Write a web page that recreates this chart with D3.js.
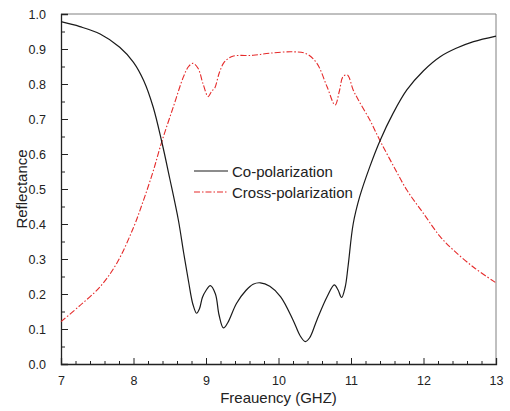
<!DOCTYPE html>
<html>
<head>
<meta charset="utf-8">
<script src="https://cdn.jsdelivr.net/npm/d3@7/dist/d3.min.js"></script>
<style>
  html, body { margin: 0; padding: 0; background: #fff; }
  svg { display: block; font-family: "Liberation Sans", Arial, sans-serif; }
</style>
</head>
<body>
<svg id="chart" width="510" height="411"></svg>
<script>
// Frequency (GHz) / reflectance samples for the co-polarized response
const coFreq = [7.0, 7.26, 7.54, 7.81, 8.0, 8.14, 8.27, 8.39, 8.5, 8.62, 8.69, 8.76, 8.82, 8.87, 8.91, 8.95, 9.0, 9.06, 9.13, 9.18, 9.24, 9.3, 9.42, 9.55, 9.65, 9.75, 9.88, 10.03, 10.2, 10.3, 10.37, 10.43, 10.53, 10.67, 10.77, 10.82, 10.87, 10.92, 10.96, 11.03, 11.12, 11.26, 11.4, 11.58, 11.77, 12.0, 12.23, 12.45, 12.69, 13.0];
const coRefl = [0.978, 0.964, 0.943, 0.905, 0.862, 0.81, 0.735, 0.635, 0.53, 0.41, 0.32, 0.235, 0.17, 0.145, 0.158, 0.19, 0.21, 0.224, 0.2, 0.14, 0.103, 0.118, 0.173, 0.21, 0.228, 0.232, 0.222, 0.192, 0.126, 0.08, 0.064, 0.075, 0.126, 0.192, 0.226, 0.212, 0.19, 0.22, 0.28, 0.4, 0.478, 0.564, 0.638, 0.716, 0.783, 0.838, 0.878, 0.902, 0.921, 0.937];

// Cross-polarized response
const crossFreq = [7.0, 7.25, 7.54, 7.77, 8.0, 8.14, 8.27, 8.39, 8.55, 8.69, 8.76, 8.82, 8.89, 8.96, 9.03, 9.08, 9.12, 9.18, 9.24, 9.3, 9.38, 9.65, 9.88, 10.2, 10.39, 10.53, 10.67, 10.78, 10.84, 10.89, 10.95, 11.03, 11.1, 11.26, 11.4, 11.58, 11.77, 12.0, 12.23, 12.41, 12.7, 13.0];
const crossRefl = [0.121, 0.165, 0.221, 0.288, 0.39, 0.469, 0.55, 0.635, 0.735, 0.821, 0.85, 0.859, 0.845, 0.8, 0.764, 0.78, 0.788, 0.83, 0.859, 0.872, 0.88, 0.882, 0.888, 0.892, 0.886, 0.859, 0.792, 0.74, 0.78, 0.821, 0.826, 0.783, 0.755, 0.697, 0.638, 0.568, 0.497, 0.43, 0.364, 0.326, 0.275, 0.232];

// Axis ticks
const xTicks = [7, 8, 9, 10, 11, 12, 13];
const yTicks = [0.0, 0.1, 0.2, 0.3, 0.4, 0.5, 0.6, 0.7, 0.8, 0.9, 1.0];

const seriesNames = ["Co-polarization", "Cross-polarization"];
const axisTitles = { x: "Freauency (GHZ)", y: "Reflectance" };

const W = 510, H = 411;
const margin = { top: 14, right: 14, bottom: 47, left: 61 };
const iw = W - margin.left - margin.right;
const ih = H - margin.top - margin.bottom;

const svg = d3.select("#chart");
const g = svg.append("g").attr("transform", `translate(${margin.left},${margin.top})`);

const x = d3.scaleLinear().domain([7, 13]).range([0, iw]);
const y = d3.scaleLinear().domain([0, 1]).range([ih, 0]);

// Plot frame: top and right edges in grey
g.append("line").attr("x1", 0).attr("x2", iw).attr("y1", 0).attr("y2", 0)
  .attr("stroke", "#808080").attr("stroke-width", 1);
g.append("line").attr("x1", iw).attr("x2", iw).attr("y1", 0).attr("y2", ih)
  .attr("stroke", "#808080").attr("stroke-width", 1);

// Minor ticks (inward)
const xMinor = d3.range(7, 13.0001, 0.2).filter(v => Math.abs(v - Math.round(v)) > 1e-6);
const yMinor = d3.range(0.05, 1, 0.1);

g.append("g").attr("transform", `translate(0,${ih})`)
  .call(d3.axisBottom(x).tickValues(xMinor).tickSize(-3).tickFormat(""))
  .call(a => a.select(".domain").remove())
  .selectAll("line").attr("stroke", "#222");
g.append("g")
  .call(d3.axisLeft(y).tickValues(yMinor).tickSize(-4).tickFormat(""))
  .call(a => a.select(".domain").remove())
  .selectAll("line").attr("stroke", "#222");

// Major axes
const xAxis = g.append("g").attr("transform", `translate(0,${ih})`)
  .call(d3.axisBottom(x).tickValues(xTicks).tickSize(-6).tickPadding(12).tickFormat(d3.format("d")));
xAxis.select(".domain").attr("stroke", "#222").attr("stroke-width", 1.3);
xAxis.selectAll("line").attr("stroke", "#222");
xAxis.selectAll("text").attr("font-size", 12.5).attr("fill", "#222")
  .attr("font-family", "Liberation Sans, Arial, sans-serif");

const yAxis = g.append("g")
  .call(d3.axisLeft(y).tickValues(yTicks).tickSize(-7).tickPadding(15).tickFormat(d3.format(".1f")));
yAxis.select(".domain").attr("stroke", "#222").attr("stroke-width", 1.3);
yAxis.selectAll("line").attr("stroke", "#222");
yAxis.selectAll("text").attr("font-size", 12.5).attr("fill", "#222")
  .attr("font-family", "Liberation Sans, Arial, sans-serif");

// Axis titles
svg.append("text").attr("x", margin.left + iw / 2).attr("y", 403)
  .attr("text-anchor", "middle").attr("font-size", 15).attr("fill", "#222")
  .text(axisTitles.x);
svg.append("text")
  .attr("transform", `translate(27,${margin.top + ih / 2}) rotate(-90)`)
  .attr("text-anchor", "middle").attr("font-size", 15).attr("fill", "#222")
  .text(axisTitles.y);

// Curves
const line = d3.line().curve(d3.curveCatmullRom.alpha(0.5));
const coPts = coFreq.map((f, i) => [x(f), y(coRefl[i])]);
const crossPts = crossFreq.map((f, i) => [x(f), y(crossRefl[i])]);

const redColor = "#e52a2a";
const dashPattern = "6,2,1.5,2";

g.append("path").attr("d", line(crossPts)).attr("fill", "none")
  .attr("stroke", redColor).attr("stroke-width", 1.1).attr("stroke-dasharray", dashPattern);
g.append("path").attr("d", line(coPts)).attr("fill", "none")
  .attr("stroke", "#1a1a1a").attr("stroke-width", 1.2);

// Legend
const legend = svg.append("g");
const legendItems = [
  { name: seriesNames[0], color: "#1a1a1a", dash: null, y: 171 },
  { name: seriesNames[1], color: redColor, dash: dashPattern, y: 192 }
];
legendItems.forEach(it => {
  legend.append("line").attr("x1", 194).attr("x2", 228).attr("y1", it.y).attr("y2", it.y)
    .attr("stroke", it.color).attr("stroke-width", 1.2)
    .attr("stroke-dasharray", it.dash);
  legend.append("text").attr("x", 232).attr("y", it.y + 5.5)
    .attr("font-size", 15).attr("fill", "#222").text(it.name);
});
</script>
</body>
</html>
